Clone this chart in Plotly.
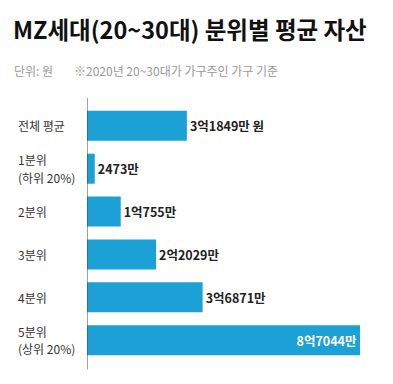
import plotly.graph_objects as go

categories = ["전체 평균", "1분위|(하위 20%)", "2분위", "3분위", "4분위", "5분위|(상위 20%)"]
values = [31849, 2473, 10755, 22029, 36871, 87044]  # 만 원
suffixes = [" 원", "", "", "", "", ""]

def fmt(v, s):
    eok, man = divmod(v, 10000)
    return (f"{eok}억" if eok else "") + f"{man}만" + s

labels = [fmt(v, s) for v, s in zip(values, suffixes)]
positions = ["outside"] * 5 + ["inside"]
text_colors = ["#222222"] * 5 + ["#ffffff"]

FONT = "Noto Sans CJK KR, Noto Sans, sans-serif"

fig = go.Figure(go.Bar(
    x=values, y=categories, orientation="h",
    marker=dict(color="#1ba1d6", line=dict(width=0)),
    text=labels, textposition=positions, insidetextanchor="end",
    textfont=dict(family=FONT, size=12.5, color=text_colors, weight="bold"),
    cliponaxis=False, width=0.7,
))

L, T, R, B = 87, 98, 20, 16
W, H = 393, 384
pw = W - L - R
ph = H - T - B

fig.update_layout(
    width=W, height=H, margin=dict(l=L, r=R, t=T, b=B),
    paper_bgcolor="white", plot_bgcolor="white", showlegend=False,
    font=dict(family=FONT),
    xaxis=dict(range=[0, 91200], visible=False, fixedrange=True),
    yaxis=dict(range=[5.65, -0.65], showticklabels=False, showgrid=False,
               zeroline=False, showline=False, ticks="", fixedrange=True),
    shapes=[dict(type="line", xref="x", yref="paper", x0=0, x1=0, y0=-0.005, y1=1.0,
                 line=dict(color="#444444", width=1))],
)

for c in categories:
    lines = c.split("|")
    n = len(lines)
    for i, ln in enumerate(lines):
        shift = ((n - 1) / 2 - i) * 17.6
        fig.add_annotation(xref="paper", yref="y", x=(17 - L) / pw, y=c, text=ln,
                           xanchor="left", align="left", showarrow=False, yshift=shift,
                           borderpad=0,
                           font=dict(family=FONT, size=12, color="#333333"))

fig.add_annotation(xref="paper", yref="paper", x=(11 - L) / pw, y=1 + (T - 29) / ph,
                   text="<b>MZ세대(20~30대) 분위별 평균 자산</b>", xanchor="left", yanchor="middle",
                   showarrow=False, font=dict(family=FONT, size=23.5, color="#111111"))
fig.add_annotation(xref="paper", yref="paper", x=(12 - L) / pw, y=1 + (T - 70) / ph,
                   text="단위: 원", xanchor="left", yanchor="middle",
                   showarrow=False, font=dict(family=FONT, size=12, color="#999999"))
fig.add_annotation(xref="paper", yref="paper", x=(72 - L) / pw, y=1 + (T - 70) / ph,
                   text="※2020년 20~30대가 가구주인 가구 기준", xanchor="left", yanchor="middle",
                   showarrow=False, font=dict(family=FONT, size=12, color="#999999"))

fig.write_html("out.html", config={"displayModeBar": False},
               post_script="document.body.style.margin='0';document.body.style.overflow='hidden';")
